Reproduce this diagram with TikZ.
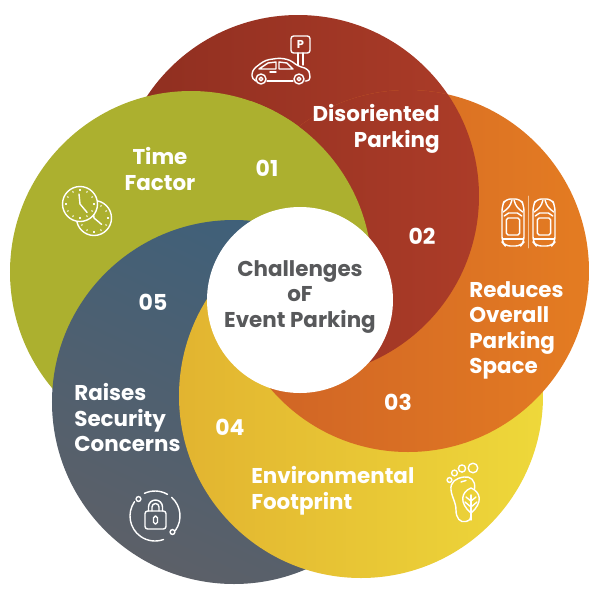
\documentclass[tikz,border=0pt]{standalone}
\usepackage{fontspec}
\setmainfont{Poppins}
\definecolor{petalred}{RGB}{142,46,32}
\definecolor{petalredb}{RGB}{172,60,40}
\definecolor{petalorange}{RGB}{206,98,38}
\definecolor{petalorangeb}{RGB}{228,124,34}
\definecolor{petalyellow}{RGB}{226,180,48}
\definecolor{petalyellowb}{RGB}{238,216,58}
\definecolor{petalblue}{RGB}{62,96,122}
\definecolor{petalblueb}{RGB}{92,96,104}
\definecolor{petalgreen}{RGB}{172,176,47}
\definecolor{centertext}{RGB}{88,89,91}
\tikzset{
  petal-red/.style={left color=petalred, right color=petalredb},
  petal-orange/.style={left color=petalorange, right color=petalorangeb},
  petal-yellow/.style={left color=petalyellow, right color=petalyellowb},
  petal-blue/.style={left color=petalblue, right color=petalblueb, shading angle=-25},
  label-text/.style={text=white, font=\fontsize{12.2}{14.5}\selectfont\bfseries, inner sep=0pt},
  number-text/.style={text=white, font=\fontsize{12.5}{14}\selectfont\bfseries, inner sep=0pt},
  icon-line/.style={draw=white, line width=0.8pt, line cap=round, line join=round}
}
\newcommand{\redcircle}{(298,196) circle[radius=181]}
\newcommand{\orangecircle}{(408,271) circle[radius=181]}
\newcommand{\yellowcircle}{(361,396) circle[radius=182]}
\newcommand{\bluecircle}{(234,402) circle[radius=182]}
\newcommand{\greencircle}{(191,272) circle[radius=181]}
\newcommand{\clockface}[4]{
  \draw[icon-line,#4] #1 circle[radius=17.5];
  \foreach \a in {0,30,...,330}
    \draw[icon-line,line width=0.6pt] #1 ++(\a:13.5) -- ++(\a:1);
  \draw[icon-line] #1 ++(-1,-10) -- #1 -- ++(#2:#3);
}
\newcommand{\topcar}[1]{
  \begin{scope}[shift={(#1,198)},xscale=1.1]
    \draw[icon-line,rounded corners=3] (0,8) -- (3,1) -- (17,1) -- (20,8) -- (20,44) -- (17,48) -- (3,48) -- (0,44) -- cycle;
    \draw[icon-line,rounded corners=1] (4,20) -- (16,20) -- (16,37) -- (4,37) -- cycle;
    \draw[icon-line] (1,14) .. controls (5,11) and (8,8) .. (9,2);
    \draw[icon-line] (19,14) .. controls (15,11) and (12,8) .. (11,2);
    \draw[icon-line] (2,18) -- (6,15) -- (14,15) -- (18,18);
    \draw[icon-line] (1,41) -- (19,41);
  \end{scope}
}
\begin{document}
\begin{tikzpicture}[x=0.02cm,y=-0.02cm]
  \useasboundingbox (0,0) rectangle (600,600);
  % Petals, each one over the last
  \shade[petal-red] \redcircle;
  \fill[petalgreen] \greencircle;
  \shade[petal-blue] \bluecircle;
  \shade[petal-yellow] \yellowcircle;
  % Closing the ring: orange, red over orange, green over that red
  \begin{scope}
    \clip (253,0) -- (600,0) -- (600,600) -- (0,600) -- (0,300) -- (253,300) -- cycle;
    \path (0,0);
    \shade[petal-orange] \orangecircle;
    \clip \orangecircle;
    \path (0,0);
    \shade[petal-red] \redcircle;
  \end{scope}
  \begin{scope}
    \clip (251,0) rectangle (600,300);
    \fill[petalgreen] \greencircle;
  \end{scope}
  % Center
  \fill[white] (300,300) circle[radius=93];
  \node[text=centertext, font=\fontsize{12.2}{14.5}\selectfont\bfseries, align=center, inner sep=0pt] (title) at (300,297) {Challenges\\oF\\Event Parking};
  % Labels
  \node[label-text, align=right, anchor=north east] (disoriented) at (440,104) {Disoriented\\Parking};
  \node[label-text, align=center, anchor=north] (timefactor) at (160,147) {Time\\Factor};
  \node[label-text, align=left, anchor=north west] (reduces) at (469,281) {Reduces\\Overall\\Parking\\Space};
  \node[label-text, align=left, anchor=north west] (environment) at (251,466) {Environmental\\Footprint};
  \node[label-text, align=left, anchor=north west] (security) at (74,383) {Raises\\Security\\Concerns};
  % Numbers
  \node[number-text] (n01) at (267,168) {01};
  \node[number-text] (n02) at (422,236) {02};
  \node[number-text] (n03) at (398,402) {03};
  \node[number-text] (n04) at (230,427) {04};
  \node[number-text] (n05) at (153,302) {05};
  % Car and parking sign
  \draw[icon-line,rounded corners=1.5] (291,36) rectangle (310,53);
  \node[text=white, font=\fontsize{6.5}{7}\selectfont\bfseries, inner sep=0pt] (psign) at (300.5,44.5) {P};
  \draw[icon-line] (298,53) -- (298,65) (303,53) -- (303,65);
  \draw[icon-line,rounded corners=2] (256,81) -- (252,79) -- (252,71) -- (257,66) -- (266,60) -- (280,58) -- (290,60) -- (298,66) -- (308,69) -- (310,74) -- (310,81) -- (305,81);
  \draw[icon-line] (267,81) -- (293,81);
  \draw[icon-line] (259,69) -- (268,63) -- (276,62) -- (276,69) -- cycle;
  \draw[icon-line] (279,62) -- (287,63) -- (293,69) -- (279,69) -- cycle;
  \draw[icon-line] (270,72) -- (276,72);
  \foreach \wx in {261,299} {
    \draw[icon-line] (\wx,79) circle[radius=5];
    \draw[icon-line] (\wx,79) circle[radius=1.8];
  }
  % Two clocks
  \clockface{(94,218)}{40}{10}{}
  \clockface{(80,204)}{50}{11}{fill=petalgreen}
  % Two cars from above
  \topcar{502}
  \topcar{533}
  \draw[icon-line,draw=white!55!petalorangeb,line width=0.5pt] (528,196) -- (528,248);
  % Foot and leaf
  \draw[icon-line] (473,468) circle[radius=4.8];
  \draw[icon-line] (462,468.5) circle[radius=3.6];
  \draw[icon-line] (454.5,473) circle[radius=2.9];
  \draw[icon-line] (449.5,480) circle[radius=2.4];
  \draw[icon-line] (474.5,489) .. controls (476,480) and (470,476) .. (464,477) .. controls (456,478) and (450,482) .. (451,490) .. controls (452,498) and (456,502) .. (456,510) .. controls (456,518) and (460,523) .. (466,521.5) .. controls (470,520.5) and (471,518) .. (471,516);
  \draw[icon-line] (461,482) -- (466,480.5);
  \draw[icon-line] (471,488) .. controls (481,492) and (483,503) .. (471,513) .. controls (459,503) and (461,492) .. (471,488) -- cycle;
  \draw[icon-line] (471,495) -- (471,520);
  \draw[icon-line] (471,501) -- (476,497) (471,501) -- (466,497) (471,507) -- (477,502) (471,507) -- (465,502);
  % Lock
  \draw[icon-line,rounded corners=1.5] (145,511) rectangle (166,529);
  \draw[icon-line] (148.5,511) -- (148.5,507) arc[start angle=180, end angle=360, radius=7] -- (162.5,511);
  \draw[icon-line] (152,511) -- (152,507) arc[start angle=180, end angle=360, radius=3.5] -- (159,511);
  \draw[icon-line,rounded corners=1] (153.5,516) rectangle (157.5,524);
  \draw[icon-line] (155,516) ++(215:25) arc[start angle=215, end angle=70, radius=25];
  \draw[icon-line] (155,516) ++(245:25) arc[start angle=245, end angle=300, radius=25];
  \draw[icon-line] (155,516) ++(312:25) arc[start angle=312, end angle=395, radius=25];
  \draw[icon-line] (138.5,499) circle[radius=2.4];
  \draw[icon-line] (172.5,532) circle[radius=2.4];
\end{tikzpicture}
\end{document}
